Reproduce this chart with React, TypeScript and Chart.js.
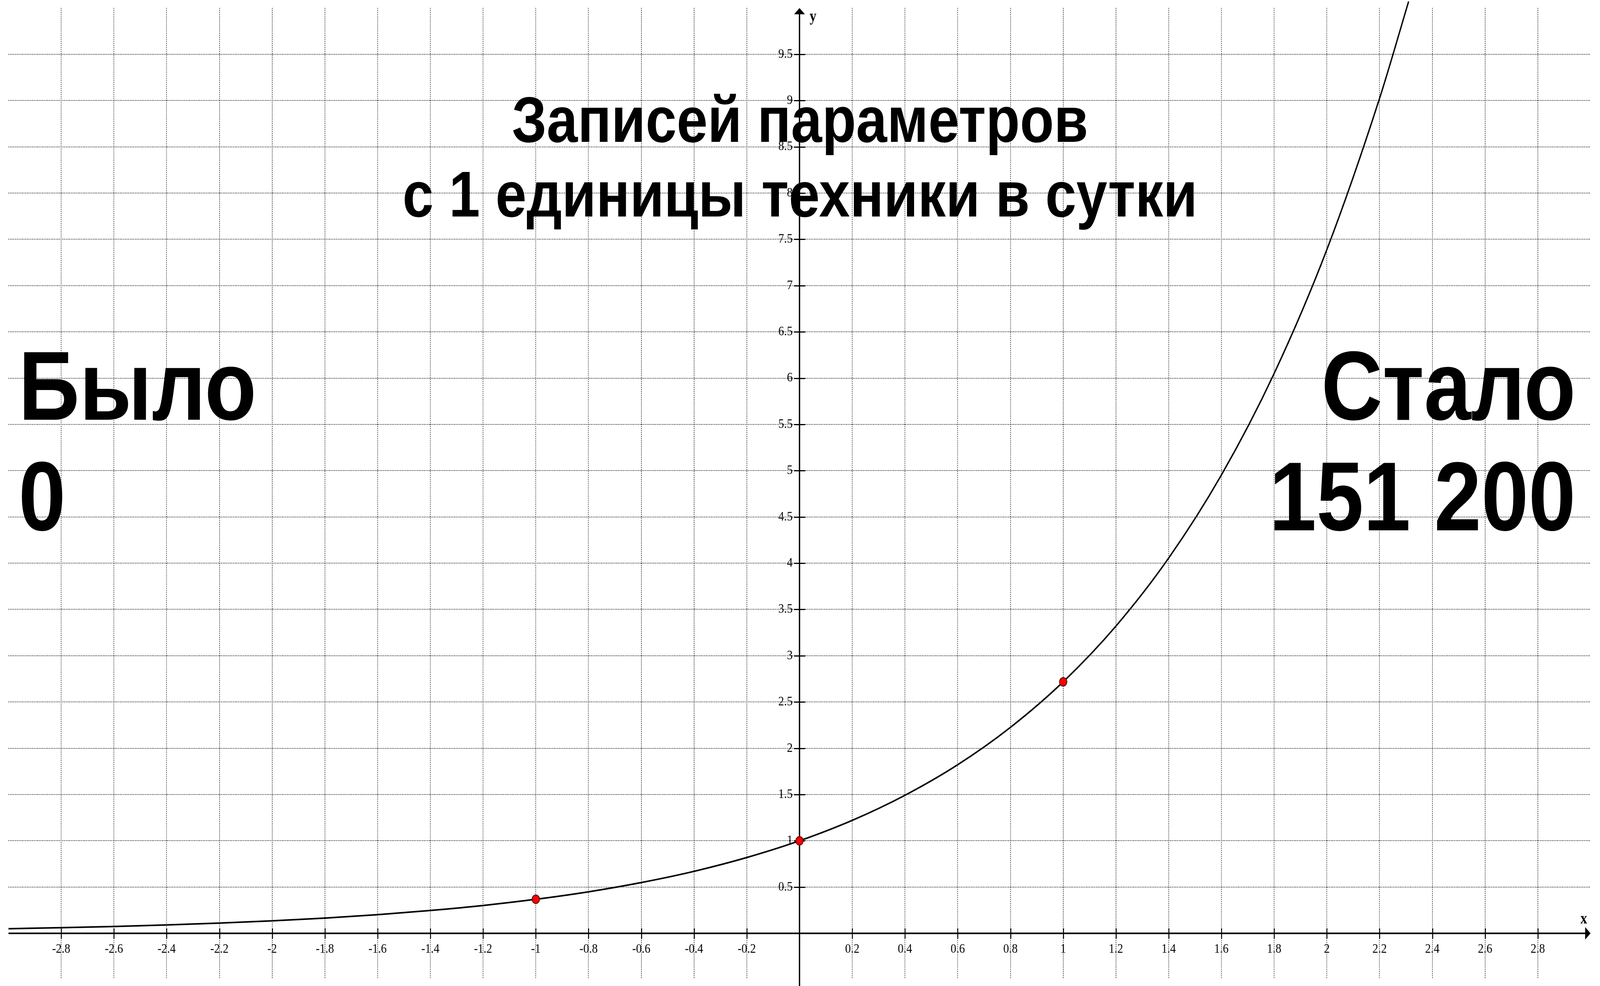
import React, { useEffect, useRef } from 'react';
import { Chart, registerables } from 'chart.js';

Chart.register(...registerables);

// ---- data ----
const curveX = [-3.0, -2.8, -2.6, -2.4, -2.2, -2.0, -1.8, -1.6, -1.4, -1.2, -1.0, -0.8, -0.6, -0.4, -0.2, 0.0, 0.2, 0.4, 0.6, 0.8, 1.0, 1.2, 1.4, 1.6, 1.8, 2.0, 2.2, 2.31];
const curveY = [0.05, 0.061, 0.074, 0.091, 0.111, 0.135, 0.165, 0.202, 0.247, 0.301, 0.368, 0.449, 0.549, 0.67, 0.819, 1.0, 1.221, 1.492, 1.822, 2.226, 2.718, 3.32, 4.055, 4.953, 6.05, 7.389, 9.025, 10.07];
const markX = [-1, 0, 1];
const markY = [0.368, 1, 2.718];

const xTickValues = [-2.8, -2.6, -2.4, -2.2, -2.0, -1.8, -1.6, -1.4, -1.2, -1.0, -0.8, -0.6, -0.4, -0.2, 0.2, 0.4, 0.6, 0.8, 1.0, 1.2, 1.4, 1.6, 1.8, 2.0, 2.2, 2.4, 2.6, 2.8];
const xTickLabels = ['-2.8', '-2.6', '-2.4', '-2.2', '-2', '-1.8', '-1.6', '-1.4', '-1.2', '-1', '-0.8', '-0.6', '-0.4', '-0.2', '0.2', '0.4', '0.6', '0.8', '1', '1.2', '1.4', '1.6', '1.8', '2', '2.2', '2.4', '2.6', '2.8'];
const yTickValues = [0.5, 1, 1.5, 2, 2.5, 3, 3.5, 4, 4.5, 5, 5.5, 6, 6.5, 7, 7.5, 8, 8.5, 9, 9.5];
const yTickLabels = ['0.5', '1', '1.5', '2', '2.5', '3', '3.5', '4', '4.5', '5', '5.5', '6', '6.5', '7', '7.5', '8', '8.5', '9', '9.5'];

const titleLines = ['Записей параметров', 'с 1 единицы техники в сутки'];
const beforeLines = ['Было', '0'];
const afterLines = ['Стало', '151 200'];
const axisNames = ['x', 'y'];

const W = 4737;
const H = 2523;

const axesPlugin = {
  id: 'axesArrows',
  beforeDatasetsDraw(chart: any) {
    const { ctx, scales } = chart;
    const xs = scales.x;
    const ys = scales.y;
    const x0 = xs.getPixelForValue(0);
    const y0 = ys.getPixelForValue(0);
    const xl = xs.getPixelForValue(-3);
    const xr = xs.getPixelForValue(3);
    const yt = ys.getPixelForValue(10);
    const yb = chart.height;
    ctx.save();
    ctx.strokeStyle = '#000';
    ctx.fillStyle = '#000';
    ctx.lineWidth = 4;
    ctx.beginPath();
    ctx.moveTo(xl, y0);
    ctx.lineTo(xr - 10, y0);
    ctx.moveTo(x0, yb);
    ctx.lineTo(x0, yt + 10);
    ctx.stroke();
    // arrows
    ctx.beginPath();
    ctx.moveTo(xr, y0);
    ctx.lineTo(xr - 16, y0 - 16);
    ctx.lineTo(xr - 16, y0 + 16);
    ctx.closePath();
    ctx.fill();
    ctx.beginPath();
    ctx.moveTo(x0, yt);
    ctx.lineTo(x0 - 16, yt + 16);
    ctx.lineTo(x0 + 16, yt + 16);
    ctx.closePath();
    ctx.fill();
    // tick marks crossing the axes
    ctx.lineWidth = 3;
    ctx.beginPath();
    xTickValues.forEach((v) => {
      const px = Math.round(xs.getPixelForValue(v)) + 0.5;
      ctx.moveTo(px, y0 - 13);
      ctx.lineTo(px, y0 + 14);
    });
    yTickValues.forEach((v) => {
      const py = Math.round(ys.getPixelForValue(v)) + 0.5;
      ctx.moveTo(x0 - 16, py);
      ctx.lineTo(x0 + 17, py);
    });
    ctx.stroke();
    // axis names
    ctx.font = 'bold 40px "Liberation Serif"';
    ctx.textAlign = 'center';
    ctx.textBaseline = 'alphabetic';
    ctx.fillText(axisNames[0], xr - 20, y0 - 25);
    ctx.fillText(axisNames[1], x0 + 40, yt + 34);
    ctx.restore();
  },
};

export default function App() {
  const canvasRef = useRef<HTMLCanvasElement | null>(null);
  const vw = typeof window !== 'undefined' ? window.innerWidth : W;
  const vh = typeof window !== 'undefined' ? window.innerHeight : H;
  const sx = vw / W;
  const sy = vh / H;

  useEffect(() => {
    if (!canvasRef.current) return;
    const tickFont = { family: '"Liberation Serif", "Times New Roman", serif', size: 34 };
    const chart = new Chart(canvasRef.current, {
      type: 'scatter',
      data: {
        datasets: [
          {
            data: markX.map((x, i) => ({ x, y: markY[i] })),
            showLine: false,
            pointRadius: 11,
            pointBorderWidth: 2,
            pointBackgroundColor: '#ff0000',
            pointBorderColor: '#3a0000',
            order: 0,
          },
          {
            data: curveX.map((x, i) => ({ x, y: curveY[i] })),
            showLine: true,
            borderColor: '#000',
            borderWidth: 4,
            pointRadius: 0,
            cubicInterpolationMode: 'monotone',
            clip: { left: 0, top: 20, right: 0, bottom: 0 },
            order: 1,
          },
        ],
      },
      options: {
        animation: false,
        responsive: false,
        devicePixelRatio: 1,
        events: [],
        layout: { padding: { left: 25, right: 28, top: 13, bottom: 0 } },
        plugins: {
          legend: { display: false },
          tooltip: { enabled: false },
          title: { display: false },
        },
        scales: {
          x: {
            type: 'linear',
            min: -3,
            max: 3,
            position: { y: 0 },
            afterBuildTicks: (scale: any) => {
              scale.ticks = xTickValues.map((v) => ({ value: v }));
            },
            grid: { color: '#000', lineWidth: 2, drawTicks: false },
            border: { display: false, dash: [2, 3] },
            ticks: {
              autoSkip: false,
              maxRotation: 0,
              minRotation: 0,
              padding: 20,
              color: '#000',
              font: tickFont,
              callback: (_v: any, i: number) => xTickLabels[i],
            },
          },
          y: {
            type: 'linear',
            min: -0.483,
            max: 10,
            // labels sit ~20px left of the y axis line
            position: { x: -0.026 },
            afterBuildTicks: (scale: any) => {
              scale.ticks = yTickValues.map((v) => ({ value: v }));
            },
            grid: { color: '#000', lineWidth: 2, drawTicks: false },
            border: { display: false, dash: [2, 3] },
            ticks: {
              autoSkip: false,
              padding: 0,
              color: '#000',
              font: tickFont,
              callback: (_v: any, i: number) => yTickLabels[i],
            },
          },
        },
      },
      plugins: [axesPlugin],
    } as any);
    return () => chart.destroy();
  }, []);

  const bold = '"Liberation Sans", Arial, sans-serif';
  return (
    <div style={{ position: 'fixed', left: 0, top: 0, width: vw, height: vh, background: '#fff', overflow: 'hidden' }}>
      <div
        style={{
          position: 'absolute', left: 0, top: 0, width: W, height: H,
          transform: `scale(${sx}, ${sy})`, transformOrigin: '0 0', background: '#fff',
        }}
      >
        <canvas ref={canvasRef} width={W} height={H} style={{ position: 'absolute', left: 0, top: 0, width: W, height: H }} />
        <div
          style={{
            position: 'absolute', left: 0, top: 211, width: W, textAlign: 'center',
            fontFamily: bold, fontWeight: 700, fontSize: 165, lineHeight: '191px', color: '#000',
          }}
        >
          {titleLines.map((t) => (<div key={t}>{t}</div>))}
        </div>
        <div
          style={{
            position: 'absolute', left: 55, top: 846,
            fontFamily: bold, fontWeight: 700, fontSize: 251, lineHeight: '283px', color: '#000', textAlign: 'left',
          }}
        >
          {beforeLines.map((t) => (<div key={t}>{t}</div>))}
        </div>
        <div
          style={{
            position: 'absolute', right: W - 4665, top: 846,
            fontFamily: bold, fontWeight: 700, fontSize: 251, lineHeight: '283px', color: '#000', textAlign: 'right',
          }}
        >
          {afterLines.map((t) => (<div key={t}>{t}</div>))}
        </div>
      </div>
    </div>
  );
}
